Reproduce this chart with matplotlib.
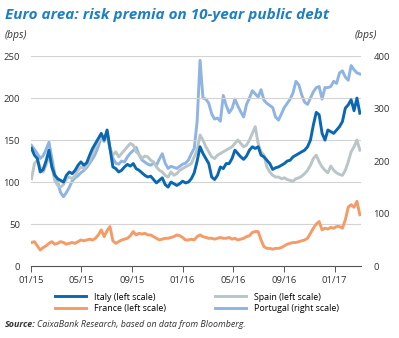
import numpy as np
import pandas as pd
import matplotlib.pyplot as plt

plt.rcParams['font.family'] = ['Open Sans', 'DejaVu Sans']

# weekly observations, 01/2015 - 03/2017 (bps)
dates = pd.date_range('2015-01-02', periods=114, freq='7D')

italy = [140, 132, 128, 112, 115, 125, 138, 118, 108, 104, 102, 100, 108, 112, 110, 114,
         120, 124, 120, 123, 132, 140, 146, 152, 158, 150, 162, 140, 118, 116, 112, 114,
         118, 121, 119, 122, 116, 114, 111, 108, 106, 107, 103, 99, 102, 105, 97, 94,
         100, 98, 96, 98, 101, 99, 100, 104, 111, 125, 142, 134, 128, 122, 106, 103,
         108, 118, 116, 122, 122, 128, 138, 134, 130, 127, 131, 138, 142, 140, 142, 132,
         130, 126, 122, 115, 117, 118, 120, 122, 125, 126, 130, 132, 134, 136, 138, 142,
         150, 168, 183, 180, 158, 150, 162, 160, 158, 162, 166, 172, 188, 192, 198, 185,
         200, 182]

spain = [104, 122, 126, 118, 112, 120, 132, 118, 102, 96, 94, 97, 104, 106, 104, 108,
         114, 118, 116, 120, 126, 134, 142, 148, 152, 148, 158, 140, 132, 136, 130, 134,
         138, 142, 146, 144, 136, 133, 128, 131, 130, 126, 124, 118, 114, 112, 108, 106,
         112, 108, 110, 114, 116, 118, 120, 122, 130, 138, 156, 150, 142, 136, 130, 128,
         132, 134, 136, 138, 140, 142, 146, 150, 146, 142, 144, 150, 158, 166, 146, 136,
         132, 118, 112, 108, 106, 106, 104, 105, 103, 102, 101, 104, 105, 107, 110, 114,
         120, 128, 132, 124, 118, 114, 111, 119, 114, 111, 109, 108, 114, 124, 136, 142,
         150, 138]

france = [28, 29, 24, 19, 22, 24, 27, 29, 26, 27, 29, 28, 26, 27, 28, 27,
          29, 31, 30, 31, 32, 31, 33, 37, 43, 35, 42, 47, 30, 27, 29, 31,
          32, 33, 36, 41, 37, 39, 38, 39, 37, 37, 35, 33, 31, 32, 33, 33,
          34, 35, 37, 36, 34, 31, 31, 32, 31, 35, 37, 35, 34, 33, 33, 32,
          33, 34, 33, 33, 34, 32, 33, 31, 32, 33, 35, 36, 40, 41, 41, 31,
          23, 21, 21, 20, 21, 21, 22, 24, 26, 27, 28, 28, 29, 30, 31, 33,
          39, 45, 50, 53, 43, 45, 44, 46, 45, 47, 47, 45, 55, 70, 73, 70,
          77, 61]

portugal = [230, 222, 214, 205, 210, 222, 236, 205, 175, 160, 140, 132, 140, 150, 162, 168,
            172, 178, 182, 188, 196, 204, 214, 228, 245, 240, 256, 225, 205, 196, 194, 200,
            198, 208, 215, 220, 226, 212, 202, 198, 194, 192, 196, 192, 204, 214, 196, 186,
            190, 188, 186, 190, 194, 196, 202, 214, 224, 276, 392, 320, 318, 310, 290, 280,
            282, 276, 325, 306, 292, 300, 318, 305, 294, 284, 308, 320, 334, 328, 322, 336,
            316, 310, 306, 302, 284, 278, 290, 302, 310, 318, 330, 352, 345, 326, 312, 308,
            320, 332, 340, 342, 318, 340, 340, 342, 352, 348, 368, 372, 360, 354, 382, 374,
            368, 366]

tick_dates = pd.to_datetime(['2015-01-01', '2015-05-01', '2015-09-01', '2016-01-01',
                             '2016-05-01', '2016-09-01', '2017-01-01'])
tick_labels = ['01/15', '05/15', '09/15', '01/16', '05/16', '09/16', '01/17']

c_italy = '#0a68b3'
c_spain = '#b9c5c6'
c_france = '#f59b68'
c_portugal = '#8fb4e3'
txt = '#333333'
narrow = ['Liberation Sans Narrow', 'Open Sans', 'DejaVu Sans']

fig = plt.figure(figsize=(3.99, 3.38), dpi=100)
ax = fig.add_axes([0.078, 0.213, 0.827, 0.621])
ax2 = ax.twinx()
ax.set_zorder(ax2.get_zorder() + 1)
ax.patch.set_visible(False)

lw = 2.1
ax2.plot(dates, portugal, color=c_portugal, lw=lw, label='Portugal (right scale)')
ax.plot(dates, france, color=c_france, lw=lw, label='France (left scale)')
ax.plot(dates, spain, color=c_spain, lw=lw, label='Spain (left scale)')
ax.plot(dates, italy, color=c_italy, lw=lw, label='Italy (left scale)')

ax.set_ylim(0, 250)
ax2.set_ylim(0, 400)
ax.set_xlim(pd.Timestamp('2015-01-01'), pd.Timestamp('2017-03-06'))
ax.set_yticks([0, 50, 100, 150, 200, 250])
ax2.set_yticks([0, 100, 200, 300, 400])
ax.set_xticks(tick_dates)
ax.set_xticklabels(tick_labels)

for a in (ax, ax2):
    for s in ['top', 'right', 'left']:
        a.spines[s].set_visible(False)
ax2.spines['bottom'].set_visible(False)
ax.spines['bottom'].set_color('#555555')
ax.spines['bottom'].set_linewidth(0.8)

ax.tick_params(axis='y', length=0, pad=8, labelsize=6.8, labelcolor=txt)
ax2.tick_params(axis='y', length=0, pad=9, labelsize=6.8, labelcolor=txt)
ax.tick_params(axis='x', length=4, width=0.7, color='#555555', pad=3, labelsize=6.8, labelcolor=txt)

# horizontal gridlines on the left scale only
for v in [50, 100, 150, 200, 250]:
    ax.axhline(v, color='#d3d3d3', lw=0.8, zorder=0)

fig.text(0.012, 0.955, 'Euro area: risk premia on 10-year public debt', color='#1f7fc5',
         fontsize=11, fontweight='bold', style='italic', va='center', ha='left')
fig.text(0.012, 0.895, '(bps)', fontsize=7.5, style='italic', color=txt, va='center')
fig.text(0.888, 0.895, '(bps)', fontsize=7.5, style='italic', color=txt, va='center')

h, l = ax.get_legend_handles_labels()
h2, l2 = ax2.get_legend_handles_labels()
order = [h[2], h[0], h[1], h2[0]]
names = [l[2], l[0], l[1], l2[0]]
fig.legend(order, names, ncol=2, loc='center left', bbox_to_anchor=(0.13, 0.104),
           frameon=False, prop={'family': narrow, 'size': 6.4}, handlelength=3.4,
           handletextpad=0.9, columnspacing=5.6, labelspacing=0.3, borderaxespad=0)

src = fig.text(0.012, 0.041, 'Source:', fontsize=6.4, fontweight='bold', style='italic',
               color=txt, va='center', family=narrow)
fig.canvas.draw()
bb = src.get_window_extent().transformed(fig.transFigure.inverted())
fig.text(bb.x1 + 0.004, 0.041, 'CaixaBank Research, based on data from Bloomberg.', fontsize=6.4,
         style='italic', color=txt, va='center', family=narrow)

fig.savefig('out.png', dpi=100)
